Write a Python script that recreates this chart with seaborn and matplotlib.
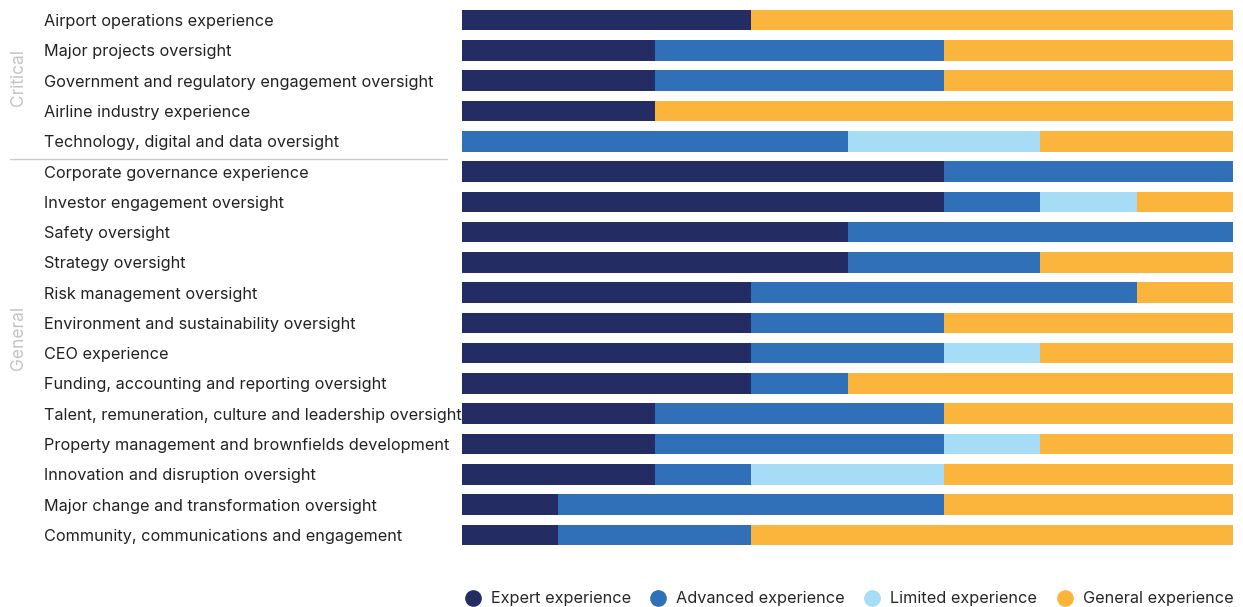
import matplotlib
matplotlib.use("Agg")
import matplotlib.pyplot as plt
import seaborn as sns
import pandas as pd
import numpy as np

categories = [
    "Airport operations experience",
    "Major projects oversight",
    "Government and regulatory engagement oversight",
    "Airline industry experience",
    "Technology, digital and data oversight",
    "Corporate governance experience",
    "Investor engagement oversight",
    "Safety oversight",
    "Strategy oversight",
    "Risk management oversight",
    "Environment and sustainability oversight",
    "CEO experience",
    "Funding, accounting and reporting oversight",
    "Talent, remuneration, culture and leadership oversight",
    "Property management and brownfields development",
    "Innovation and disruption oversight",
    "Major change and transformation oversight",
    "Community, communications and engagement",
]
expert   = [3, 2, 2, 2, 0, 5, 5, 4, 4, 3, 3, 3, 3, 2, 2, 2, 1, 1]
advanced = [0, 3, 3, 0, 4, 3, 1, 4, 2, 4, 2, 2, 1, 3, 3, 1, 4, 2]
limited  = [0, 0, 0, 0, 2, 0, 1, 0, 0, 0, 0, 1, 0, 0, 1, 2, 0, 0]
general  = [5, 3, 3, 6, 2, 0, 1, 0, 2, 1, 3, 2, 4, 3, 2, 3, 3, 5]
series_names = ["Expert experience", "Advanced experience", "Limited experience", "General experience"]
colors = ["#232d63", "#2f70b8", "#a6dcf5", "#fbb53d"]
group_labels = ["Critical", "General"]

df = pd.DataFrame({"cat": categories, "Expert": expert, "Advanced": advanced,
                   "Limited": limited, "General": general})
df["c1"] = df["Expert"]
df["c2"] = df["c1"] + df["Advanced"]
df["c3"] = df["c2"] + df["Limited"]
df["c4"] = df["c3"] + df["General"]

sns.set_theme(style="white")
plt.rcParams["font.family"] = ["Inter", "DejaVu Sans"]

fig = plt.figure(figsize=(12.43, 6.07), dpi=100)
ax = fig.add_axes([462/1243, 1 - 550/607, (1233-462)/1243, (550-5)/607])

for col, c in zip(["c4", "c3", "c2", "c1"], colors[::-1]):
    sns.barplot(data=df, x=col, y="cat", color=c, orient="h", width=0.68,
                ax=ax, saturation=1, order=categories, linewidth=0, edgecolor="none")

ax.set_xlim(0, 8)
ax.set_xlabel("")
ax.set_ylabel("")
ax.set_xticks([])
for s in ax.spines.values():
    s.set_visible(False)
ax.tick_params(axis="y", length=0, pad=(462-44)*72/100)
for t in ax.get_yticklabels():
    t.set_horizontalalignment("left")
    t.set_verticalalignment("center_baseline")
    t.set_fontsize(11.7)
    t.set_color("#222222")

# separator line and group labels
fig.add_artist(plt.Line2D([10/1243, 447/1243], [1-159/607, 1-159/607],
                          color="#cccccc", lw=1))
fig.text(18/1243, 1-78/607, group_labels[0], rotation=90, ha="center", va="center",
         fontsize=12.5, color="#c4c4c4")
fig.text(18/1243, 1-338/607, group_labels[1], rotation=90, ha="center", va="center",
         fontsize=12.5, color="#c4c4c4")

handles = [plt.Line2D([], [], marker="o", ls="", markersize=11, color=c) for c in colors]
fig.legend(handles, series_names, loc="lower left", ncol=4, frameon=False,
           bbox_to_anchor=(455/1243, -0.015, (1243-455)/1243, 0.05), mode="expand",
           fontsize=11.7, handletextpad=0.6, borderaxespad=0.2, handlelength=1.0)

fig.savefig("out.png", dpi=100)
